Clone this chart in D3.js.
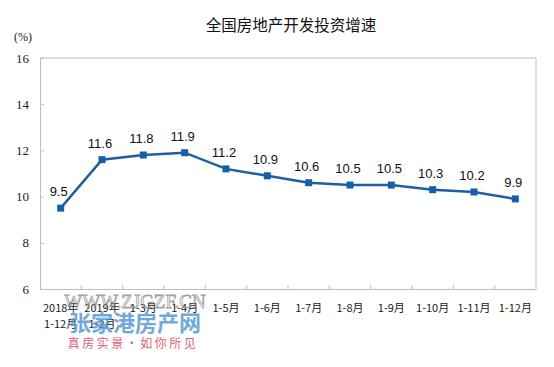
<!DOCTYPE html>
<html lang="zh">
<head>
<meta charset="UTF-8">
<title>全国房地产开发投资增速</title>
<script src="https://cdn.jsdelivr.net/npm/d3@7"></script>
<style>
  body { margin: 0; background: #fff; }
</style>
</head>
<body>
<svg id="chart" width="554" height="367"></svg>
<script>
// chart data
const categories = ["2018年\n1-12月", "2019年\n1-2月", "1-3月", "1-4月", "1-5月", "1-6月",
                    "1-7月", "1-8月", "1-9月", "1-10月", "1-11月", "1-12月"];
const growth = [9.5, 11.6, 11.8, 11.9, 11.2, 10.9, 10.6, 10.5, 10.5, 10.3, 10.2, 9.9];
const yTicks = [6, 8, 10, 12, 14, 16];

const svg = d3.select("#chart");
const plotLeft = 40, plotRight = 536, plotTop = 58, plotBottom = 289;

const x = d3.scaleBand().domain(categories).range([plotLeft, plotRight]);
const y = d3.scaleLinear().domain([6, 16]).range([plotBottom, plotTop]);
const cx = i => x(categories[i]) + x.bandwidth() / 2;

// title
svg.append("text")
    .attr("x", 291).attr("y", 31)
    .attr("text-anchor", "middle")
    .attr("font-family", "'Noto Sans CJK SC', sans-serif")
    .attr("font-size", 15.5)
    .attr("fill", "#111")
    .text("全国房地产开发投资增速");

// unit
svg.append("text")
    .attr("x", 23).attr("y", 41)
    .attr("text-anchor", "middle")
    .attr("font-family", "'Liberation Serif', serif")
    .attr("font-size", 12)
    .attr("fill", "#222")
    .text("(%)");

// frame (top + right)
svg.append("path")
    .attr("d", `M${plotLeft},${plotTop}H${plotRight}V${plotBottom}`)
    .attr("fill", "none")
    .attr("stroke", "#bdbdbd");

// y axis
const yAxis = svg.append("g")
    .attr("transform", `translate(${plotLeft},0)`)
    .call(d3.axisLeft(y).tickValues(yTicks).tickSize(-4).tickPadding(8));
yAxis.select(".domain").attr("stroke", "#bdbdbd");
yAxis.selectAll(".tick line").attr("stroke", "#bdbdbd");
yAxis.selectAll(".tick text")
    .attr("font-family", "'Liberation Serif', serif")
    .attr("font-size", 13)
    .attr("fill", "#222")
    .attr("x", -11);

// x axis
const xAxis = svg.append("g")
    .attr("transform", `translate(0,${plotBottom})`)
    .call(d3.axisBottom(x).tickSize(0).tickFormat(""));
xAxis.select(".domain").attr("stroke", "#bdbdbd");

// category boundary ticks (inside)
svg.append("g").selectAll("line")
    .data(categories.slice(1))
    .join("line")
    .attr("x1", d => x(d)).attr("x2", d => x(d))
    .attr("y1", plotBottom - 4).attr("y2", plotBottom)
    .attr("stroke", "#bdbdbd");

// x labels
const xl = svg.append("g").selectAll("text")
    .data(categories)
    .join("text")
    .attr("x", d => x(d) + x.bandwidth() / 2)
    .attr("y", 312)
    .attr("text-anchor", "middle")
    .attr("font-family", "'Noto Sans CJK SC', sans-serif")
    .attr("font-size", 11)
    .attr("fill", "#222");
xl.each(function (d) {
    const lines = d.split("\n");
    d3.select(this).selectAll("tspan")
        .data(lines)
        .join("tspan")
        .attr("x", x(d) + x.bandwidth() / 2)
        .attr("dy", (l, i) => i === 0 ? 0 : 16)
        .text(l => l);
});

// line
const line = d3.line()
    .x((d, i) => cx(i))
    .y(d => y(d));

svg.append("path")
    .datum(growth)
    .attr("d", line)
    .attr("fill", "none")
    .attr("stroke", "#1d5f9f")
    .attr("stroke-width", 2.5);

// markers
svg.append("g").selectAll("rect")
    .data(growth)
    .join("rect")
    .attr("x", (d, i) => cx(i) - 3.5)
    .attr("y", d => y(d) - 3.5)
    .attr("width", 7).attr("height", 7)
    .attr("fill", "#1560a8");

// value labels
svg.append("g").selectAll("text")
    .data(growth)
    .join("text")
    .attr("x", (d, i) => cx(i) - 2)
    .attr("y", d => y(d) - 12)
    .attr("text-anchor", "middle")
    .attr("font-family", "'Liberation Sans', Arial, sans-serif")
    .attr("font-size", 13)
    .attr("fill", "#111")
    .text(d => d.toFixed(1));

// watermark
svg.append("text")
    .attr("x", 135).attr("y", 308)
    .attr("text-anchor", "middle")
    .attr("font-family", "'Liberation Serif', serif")
    .attr("font-size", 19)
    .attr("fill", "none")
    .attr("stroke", "#8a8a8a")
    .attr("stroke-width", 0.8)
    .attr("opacity", 0.8)
    .text("WWW.ZJGZF.CN");
svg.append("text")
    .attr("x", 135).attr("y", 331)
    .attr("text-anchor", "middle")
    .attr("font-family", "'Noto Sans CJK SC', sans-serif")
    .attr("font-weight", "bold")
    .attr("font-size", 22)
    .attr("fill", "#5a9bd5")
    .attr("opacity", 0.85)
    .text("张家港房产网");
svg.append("text")
    .attr("x", 133).attr("y", 348)
    .attr("text-anchor", "middle")
    .attr("font-family", "'Noto Sans CJK SC', sans-serif")
    .attr("font-size", 12)
    .attr("letter-spacing", 2.5)
    .attr("fill", "#e06070")
    .text("真房实景·如你所见");
</script>
</body>
</html>
